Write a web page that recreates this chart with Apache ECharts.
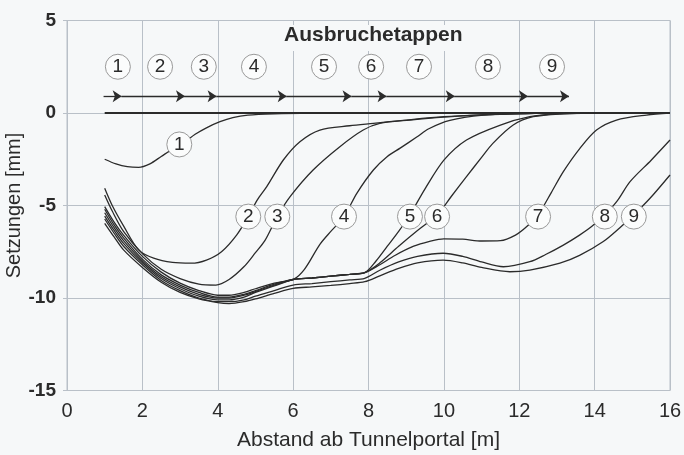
<!DOCTYPE html>
<html>
<head>
<meta charset="utf-8">
<script src="https://cdn.jsdelivr.net/npm/echarts/dist/echarts.min.js"></script>
<style>
html,body{margin:0;padding:0;background:#f6f8f9;}
#chart{width:684px;height:455px;}
</style>
</head>
<body>
<div id="chart"></div>
<script>
// ---- data ----
const xTicks = [0, 2, 4, 6, 8, 10, 12, 14, 16];
const yTicks = [-15, -10, -5, 0, 5];
const titleText = 'Ausbruchetappen';
const xAxisName = 'Abstand ab Tunnelportal [m]';
const yAxisName = 'Setzungen [mm]';

const baseline = [[1, 0], [16, 0]];

const curve1 = [[1,-2.5],[1.3,-2.75],[1.6,-2.9],[1.9,-2.94],[2.2,-2.75],[2.5,-2.35],[2.8,-1.95],[3.1,-1.6],[3.4,-1.15],[3.7,-0.8],[4.06,-0.47],[4.4,-0.25],[4.8,-0.12],[5.5,-0.05],[6.5,-0.01],[7.5,0]];
const curve2 = [[1,-4.07],[1.2,-5.0],[1.5,-6.1],[1.9,-7.4],[2.3,-7.85],[2.8,-8.08],[3.3,-8.12],[3.7,-7.95],[4.1,-7.5],[4.5,-6.6],[4.81,-5.6],[5.05,-4.7],[5.3,-3.98],[5.74,-2.54],[6.18,-1.55],[6.71,-0.92],[7.5,-0.69],[8.13,-0.56],[9.0,-0.38],[10,-0.2],[11,-0.1],[12,-0.04],[13,0]];
const curve3 = [[1,-4.43],[1.2,-5.3],[1.5,-6.4],[2,-7.6],[2.5,-8.45],[3,-8.95],[3.5,-9.25],[3.95,-9.3],[4.3,-9.0],[4.7,-8.3],[5.0,-7.55],[5.25,-6.9],[5.58,-5.6],[5.92,-4.52],[6.53,-3.08],[7.24,-1.82],[7.86,-0.92],[8.3,-0.56],[9.1,-0.38],[10,-0.22],[11,-0.1],[12,-0.03],[13,0]];
const curve4 = [[1,-5.06],[1.25,-5.9],[1.5,-6.6],[2,-7.75],[2.5,-8.6],[3,-9.2],[3.5,-9.6],[4,-9.85],[4.3,-9.85],[4.7,-9.7],[5,-9.5],[5.5,-9.2],[6.0,-9.0],[6.3,-8.45],[6.71,-7.1],[7.0,-6.4],[7.35,-5.6],[7.69,-4.34],[8.13,-3.08],[8.5,-2.35],[8.84,-1.9],[9.28,-1.3],[9.6,-0.85],[10.16,-0.4],[11.05,-0.12],[12,-0.03],[13,0]];
const curve5 = [[1,-5.2],[1.25,-6.05],[1.5,-6.75],[2,-7.9],[2.5,-8.75],[3,-9.3],[3.5,-9.7],[4,-9.95],[4.3,-9.95],[4.7,-9.8],[5,-9.6],[5.5,-9.25],[6,-9.0],[6.5,-8.92],[7,-8.82],[7.5,-8.72],[7.9,-8.63],[8.2,-8.0],[8.5,-7.2],[8.8,-6.4],[9.1,-5.5],[9.5,-4.1],[10.0,-2.55],[10.6,-1.46],[11.5,-0.65],[12.28,-0.2],[13,-0.05],[14,0]];
const curve6 = [[1,-5.39],[1.25,-6.2],[1.5,-6.9],[2,-8.0],[2.5,-8.85],[3,-9.4],[3.5,-9.8],[4,-10.0],[4.3,-10.0],[4.7,-9.85],[5,-9.65],[5.5,-9.3],[6,-9.0],[6.5,-8.92],[7,-8.82],[7.5,-8.72],[7.9,-8.63],[8.3,-8.1],[8.8,-7.2],[9.3,-6.35],[9.83,-5.5],[10.2,-4.5],[10.6,-3.44],[11.0,-2.4],[11.3,-1.64],[11.84,-0.65],[12.37,-0.2],[13.2,-0.04],[14,0]];
const curve7 = [[1,-5.57],[1.25,-6.35],[1.5,-7.05],[2,-8.1],[2.5,-8.95],[3,-9.5],[3.5,-9.9],[4,-10.1],[4.3,-10.1],[4.7,-9.95],[5,-9.7],[5.5,-9.35],[6,-9.0],[6.5,-8.92],[7,-8.82],[7.5,-8.72],[7.9,-8.63],[8.3,-8.2],[8.7,-7.7],[9.2,-7.2],[9.6,-6.95],[10.0,-6.8],[10.5,-6.82],[11.0,-6.92],[11.5,-6.9],[11.9,-6.6],[12.2,-6.14],[12.5,-5.5],[12.85,-4.3],[13.17,-3.17],[13.61,-1.91],[14.05,-0.92],[14.58,-0.38],[15.38,-0.11],[16,0]];
const curve8 = [[1,-5.73],[1.25,-6.5],[1.5,-7.2],[2,-8.2],[2.5,-9.05],[3,-9.6],[3.5,-10.0],[4,-10.2],[4.3,-10.2],[4.7,-10.1],[5,-9.9],[5.5,-9.6],[6,-9.3],[6.5,-9.22],[7,-9.12],[7.5,-9.02],[7.9,-8.94],[8.3,-8.5],[8.8,-8.05],[9.3,-7.75],[9.98,-7.58],[10.5,-7.75],[11.0,-8.05],[11.58,-8.31],[12.28,-8.04],[12.7,-7.65],[13.17,-7.14],[13.6,-6.6],[13.92,-6.14],[14.27,-5.5],[14.6,-4.75],[14.94,-3.71],[15.5,-2.55],[16,-1.46]];
const curve9 = [[1,-5.96],[1.25,-6.7],[1.5,-7.4],[2,-8.35],[2.5,-9.15],[3,-9.7],[3.5,-10.05],[4,-10.25],[4.3,-10.3],[4.7,-10.2],[5,-10.05],[5.5,-9.75],[6,-9.48],[6.5,-9.4],[7,-9.32],[7.5,-9.22],[7.9,-9.12],[8.3,-8.8],[8.8,-8.4],[9.3,-8.1],[9.98,-7.95],[10.5,-8.1],[11.0,-8.35],[11.75,-8.58],[12.28,-8.49],[13.08,-8.12],[13.6,-7.7],[14.23,-6.95],[14.67,-6.2],[15.04,-5.5],[15.47,-4.61],[16,-3.35]];

// stage markers (circled numbers) along the top row
const stageNames = ['1','2','3','4','5','6','7','8','9'];
const stageLabelX = [1.35, 2.47, 3.63, 4.96, 6.82, 8.07, 9.34, 11.17, 12.87];
const stageLabelY = 2.5;
// excavation advance arrows: segment boundaries (x) at y = arrowY
const arrowStops = [0.97, 1.45, 3.13, 3.97, 5.83, 7.55, 8.48, 10.29, 12.23, 13.32];
const arrowY = 0.9;
// curve labels
const curveLabelX = [2.98, 4.81, 5.58, 7.35, 9.1, 9.82, 12.5, 14.27, 15.04];
const curveLabelY = [-1.7, -5.6, -5.6, -5.6, -5.6, -5.6, -5.6, -5.6, -5.6];

const curves = [curve1, curve2, curve3, curve4, curve5, curve6, curve7, curve8, curve9];

// ---- chart ----
const chart = echarts.init(document.getElementById('chart'), null, {renderer: 'canvas'});
const BG = '#f6f8f9';
const GRID = '#b9c0c8';
const INK = '#2b2b2b';
const FONT = "'Liberation Sans', Arial, sans-serif";

const series = [];
series.push({
  type: 'line', data: baseline, showSymbol: false, silent: true,
  lineStyle: {color: INK, width: 1.8}, z: 3
});
curves.forEach(function (c) {
  series.push({
    type: 'line', data: c, showSymbol: false, silent: true,
    smooth: 0.3,
    lineStyle: {color: INK, width: 1.3}, z: 3
  });
});
// arrows: one short line per stage, arrowhead at the end
const arrowData = [];
for (let i = 0; i < arrowStops.length - 1; i++) {
  arrowData.push([{coord: [arrowStops[i], arrowY]}, {coord: [arrowStops[i + 1], arrowY]}]);
}
series.push({
  type: 'line', data: [[0, -100]], showSymbol: false, silent: true,
  lineStyle: {opacity: 0},
  markLine: {
    silent: true, animation: false,
    symbol: ['none', 'arrow'], symbolSize: 9,
    label: {show: false},
    itemStyle: {color: INK},
    lineStyle: {color: INK, width: 1.3, type: 'solid'},
    data: arrowData
  }
});
// circled labels
const circleData = [];
stageNames.forEach(function (n, i) {
  circleData.push({name: n, value: [stageLabelX[i], stageLabelY]});
  circleData.push({name: n, value: [curveLabelX[i], curveLabelY[i]]});
});
series.push({
  type: 'scatter', data: circleData, symbol: 'circle', symbolSize: 25, silent: true, z: 10,
  itemStyle: {color: '#fbfcfc', borderColor: '#9a9a9a', borderWidth: 1, opacity: 1},
  label: {show: true, position: 'inside', formatter: '{b}', color: '#2b2b2b',
          fontSize: 19, fontFamily: FONT}
});

chart.setOption({
  animation: false,
  backgroundColor: BG,
  title: {
    text: titleText, left: 281, top: 25,
    backgroundColor: BG, padding: [0, 3, 5, 3],
    textStyle: {fontSize: 21, fontWeight: 'bold', color: '#2b2b2b', fontFamily: FONT}
  },
  grid: {left: 67, right: 14, top: 20.5, bottom: 64.5, show: true,
         outerBoundsMode: 'none', containLabel: false,
         borderColor: GRID, borderWidth: 1, backgroundColor: 'transparent'},
  xAxis: {
    type: 'value', min: xTicks[0], max: xTicks[xTicks.length - 1], interval: 2,
    name: xAxisName, nameLocation: 'middle', nameGap: 39, nameMoveOverlap: false,
    nameTextStyle: {fontSize: 21, color: '#2b2b2b', fontFamily: FONT},
    axisLine: {lineStyle: {color: GRID, width: 1}},
    axisTick: {show: true, length: 4, lineStyle: {color: GRID}},
    axisLabel: {fontSize: 20, color: '#2b2b2b', margin: 11, fontFamily: FONT},
    splitLine: {show: true, lineStyle: {color: GRID, width: 1}}
  },
  yAxis: {
    type: 'value', min: yTicks[0], max: yTicks[yTicks.length - 1], interval: 5,
    name: yAxisName, nameLocation: 'middle', nameGap: 43, nameMoveOverlap: false,
    nameTextStyle: {fontSize: 20, color: '#2b2b2b', fontFamily: FONT},
    axisLine: {show: true, lineStyle: {color: GRID, width: 1}},
    axisTick: {show: true, length: 4, lineStyle: {color: GRID}},
    axisLabel: {fontSize: 19, fontWeight: 'bold', color: '#2b2b2b', margin: 11, fontFamily: FONT},
    splitLine: {show: true, lineStyle: {color: GRID, width: 1}}
  },
  series: series
});
</script>
</body>
</html>
